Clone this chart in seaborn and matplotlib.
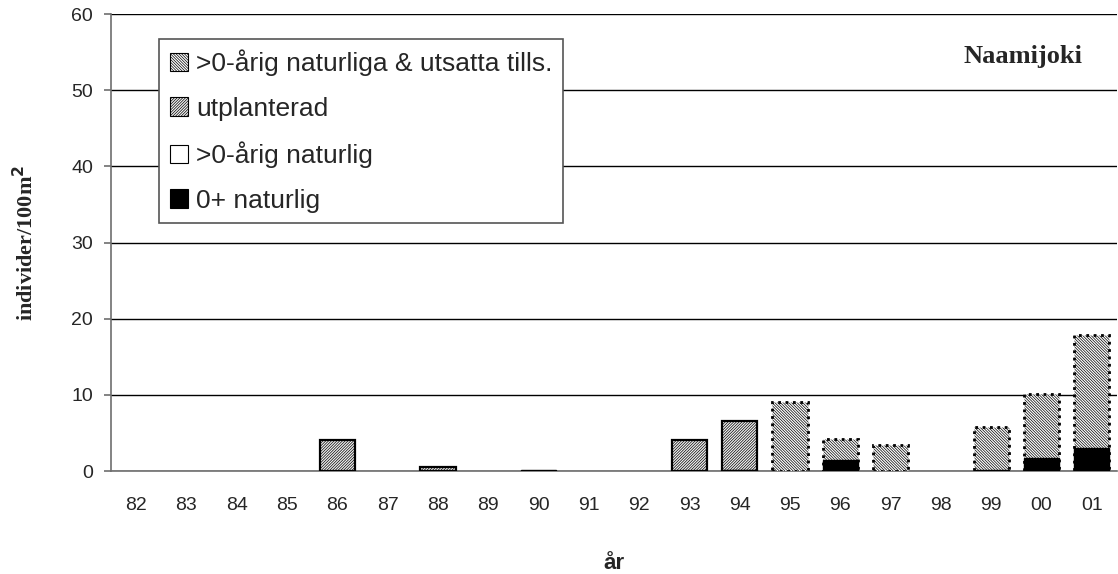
import numpy as np
import pandas as pd
import matplotlib.pyplot as plt
import seaborn as sns
from matplotlib.patches import Patch
from matplotlib.ticker import FixedLocator

sns.set_theme(style="white")
plt.rcParams["font.family"] = ["Liberation Sans", "DejaVu Sans"]
plt.rcParams["hatch.linewidth"] = 0.5

# data (individer/100m2 per year)
years = ["82", "83", "84", "85", "86", "87", "88", "89", "90", "91",
         "92", "93", "94", "95", "96", "97", "98", "99", "00", "01"]
naturlig_0 = [0, 0, 0, 0, 0, 0, 0, 0, 0.2, 0,
              0, 0, 0.2, 0, 1.4, 0, 0, 0.2, 1.7, 3.0]
naturlig_gt0 = [0] * 20
utplanterad = [0, 0, 0, 0, 4.1, 0, 0.5, 0, 0, 0,
               0, 4.1, 6.4, 0, 0, 0, 0, 0, 0, 0]
nat_utsatta = [0, 0, 0, 0, 0, 0, 0, 0, 0, 0,
               0, 0, 0, 9.1, 2.8, 3.4, 0, 5.6, 8.4, 14.9]

series = [
    (">0-årig naturliga & utsatta tills.", nat_utsatta),
    ("utplanterad", utplanterad),
    (">0-årig naturlig", naturlig_gt0),
    ("0+ naturlig", naturlig_0),
]
styles = {
    ">0-årig naturliga & utsatta tills.": dict(color="white", hatch="\\" * 12, ls=":", lw=2.0),
    "utplanterad": dict(color="#f2f2f2", hatch="/" * 12, ls="-", lw=1.6),
    ">0-årig naturlig": dict(color="white", hatch="", ls="-", lw=1.0),
    "0+ naturlig": dict(color="black", hatch="", ls="-", lw=1.0),
}

# stacked by cumulative sums, drawn tallest first
bottom_up = [naturlig_0, naturlig_gt0, utplanterad, nat_utsatta]
cum = np.cumsum(np.array(bottom_up), axis=0)
cum_by_name = {
    "0+ naturlig": cum[0],
    ">0-årig naturlig": cum[1],
    "utplanterad": cum[2],
    ">0-årig naturliga & utsatta tills.": cum[3],
}

fig, ax = plt.subplots(figsize=(11.18, 5.74), dpi=100)
fig.subplots_adjust(left=0.0993, right=0.9991, bottom=0.1794, top=0.9756)

for name, vals in series:
    st = styles[name]
    h = np.where(np.array(vals) > 0, cum_by_name[name], np.nan)
    d = pd.DataFrame({"year": years, "val": h})
    sns.barplot(data=d, x="year", y="val", order=years, color=st["color"],
                width=0.7, edgecolor="black", linewidth=st["lw"],
                linestyle=st["ls"], hatch=st["hatch"], saturation=1,
                errorbar=None, ax=ax, zorder=3)

ax.set_ylim(0, 60)
ax.set_xlim(-0.5, 19.5)
ax.set_yticks(range(0, 61, 10))
ax.yaxis.grid(True, color="black", lw=1.0)
ax.xaxis.grid(False)
ax.set_axisbelow(True)
for s in ["top", "right"]:
    ax.spines[s].set_visible(False)
for s in ["left", "bottom"]:
    ax.spines[s].set_color("#6e6e6e")
    ax.spines[s].set_linewidth(1.2)
ax.xaxis.set_minor_locator(FixedLocator(np.arange(-0.5, 20, 1)))
ax.tick_params(axis="x", which="major", length=0, labelsize=14, pad=19)
ax.tick_params(axis="x", which="minor", length=5, width=1.2, color="#6e6e6e", direction="out")
ax.tick_params(axis="y", length=5, width=1.2, color="#6e6e6e", labelsize=14, pad=8,
               direction="out", left=True)

ax.set_xlabel("år", fontsize=16, fontweight="bold", labelpad=28)
ax.set_ylabel("individer/100m$^\\mathbf{2}$", fontsize=16, fontweight="bold",
              family="Liberation Serif", labelpad=24)

ax.text(0.966, 0.906, "Naamijoki", transform=ax.transAxes, ha="right", va="center",
        fontsize=19, fontweight="bold", family="Liberation Serif")

handles = [Patch(facecolor=styles[n]["color"], edgecolor="black",
                 hatch=styles[n]["hatch"], linestyle="-", linewidth=0.8, label=n)
           for n, _ in series]
leg = ax.legend(handles=handles, loc="upper left", bbox_to_anchor=(0.0477, 0.945),
                borderaxespad=0, fontsize=19, handlelength=0.7, handleheight=0.7,
                handletextpad=0.3, labelspacing=0.78, borderpad=0.4, fancybox=False,
                framealpha=1, edgecolor="#555555")
leg.get_frame().set_linewidth(1.2)
leg.set_zorder(5)

plt.savefig("out.png", dpi=100)
